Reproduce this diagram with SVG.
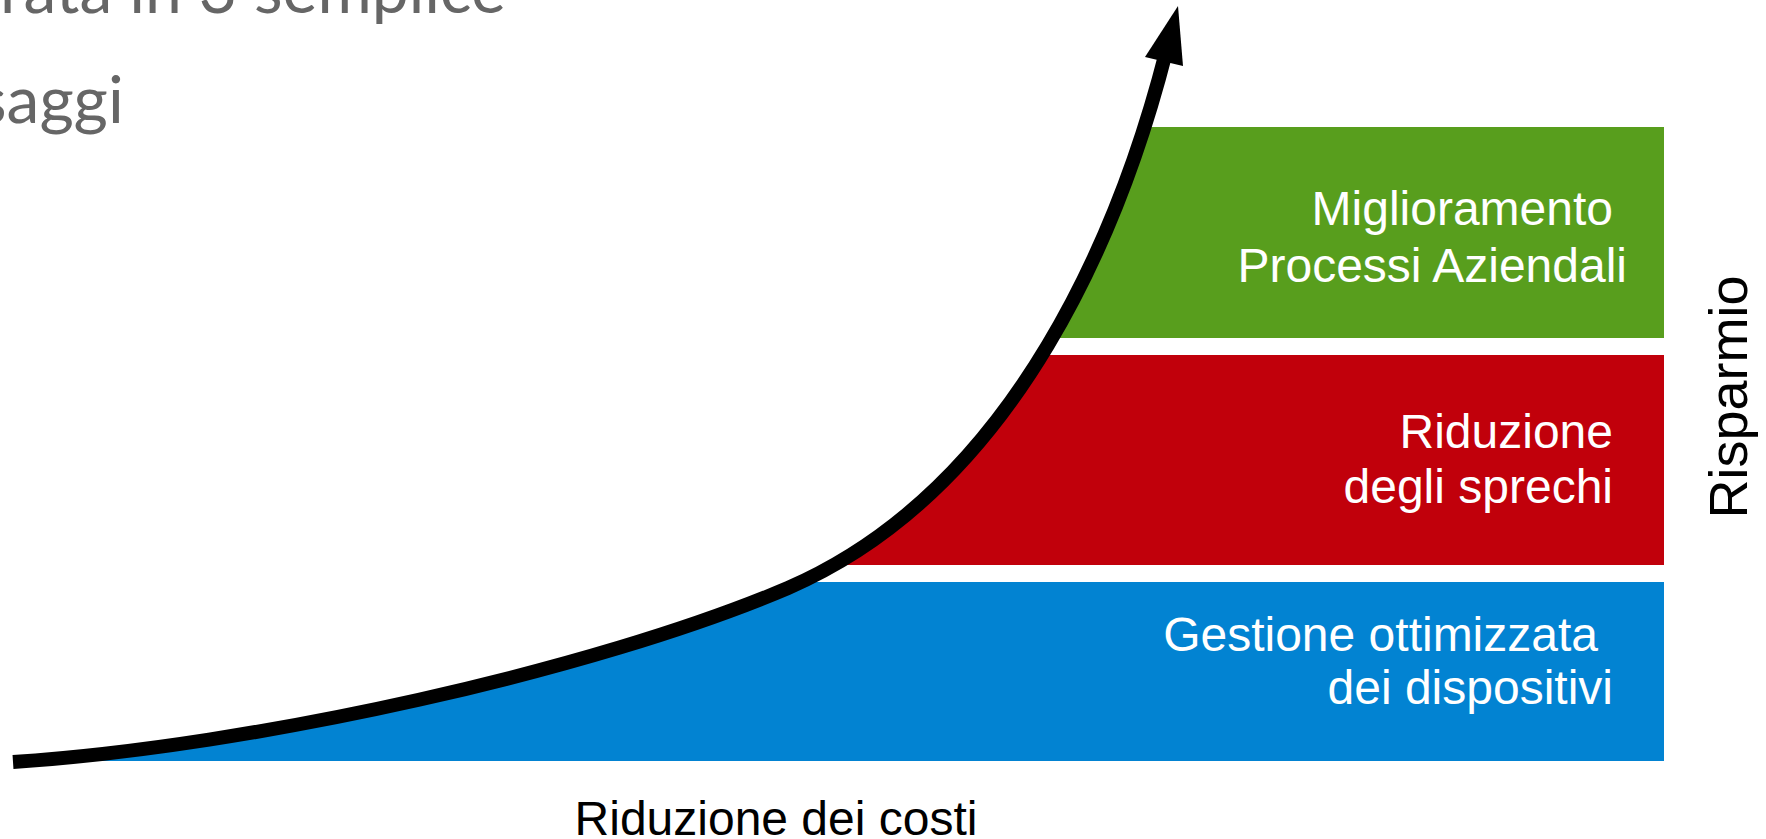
<svg xmlns="http://www.w3.org/2000/svg" width="1766" height="839" viewBox="0 0 1766 839">
  <style>
    .band-label { font-family: "Liberation Sans", Arial, sans-serif; font-size: 48px; fill: #ffffff; text-anchor: end; }
    .axis { font-family: "Liberation Sans", Arial, sans-serif; font-size: 48px; fill: #000000; text-anchor: middle; }
    .title { font-family: Lato, "Open Sans", sans-serif; font-size: 66px; fill: #666666; }
    .curve { fill: none; stroke: #000000; stroke-width: 14; stroke-linecap: butt; }
  </style>
  <defs>
    <clipPath id="under-curve">
      <path d="M 13 762 C 255 746, 595 670, 788 588 C 1020 487, 1123 220, 1166 52 L 1166 0 L 1766 0 L 1766 839 L 0 839 L 0 762 Z"/>
    </clipPath>
  </defs>
  <rect width="1766" height="839" fill="#ffffff"/>

  <g id="title">
    <text class="title" x="0" y="13">rata in 3 semplice</text>
    <text class="title" x="-22" y="123">saggi</text>
  </g>

  <g id="band-processi">
    <rect x="0" y="127" width="1664" height="211" fill="#589E1D" clip-path="url(#under-curve)"/>
    <text class="band-label" x="1613" y="225">Miglioramento</text>
    <text class="band-label" x="1627" y="282">Processi Aziendali</text>
  </g>

  <g id="band-sprechi">
    <rect x="0" y="355" width="1664" height="210" fill="#C1000B" clip-path="url(#under-curve)"/>
    <text class="band-label" x="1613" y="448">Riduzione</text>
    <text class="band-label" x="1613" y="503">degli sprechi</text>
  </g>

  <g id="band-dispositivi">
    <rect x="0" y="582" width="1664" height="179" fill="#0283D2" clip-path="url(#under-curve)"/>
    <text class="band-label" x="1598" y="651">Gestione ottimizzata</text>
    <text class="band-label" x="1613" y="704">dei dispositivi</text>
  </g>

  <g id="axis-x">
    <text class="axis" x="776" y="835">Riduzione dei costi</text>
  </g>
  <g id="axis-y">
    <text class="axis" transform="translate(1747,397) rotate(-90)" x="0" y="0" style="font-size:54px">Risparmio</text>
  </g>

  <g id="connectors">
    <path class="curve" d="M 13 762 C 255 746, 595 670, 788 588 C 1020 487, 1123 220, 1166 52"/>
    <polygon points="1178,6 1145,57 1183,66" fill="#000000"/>
  </g>
</svg>
